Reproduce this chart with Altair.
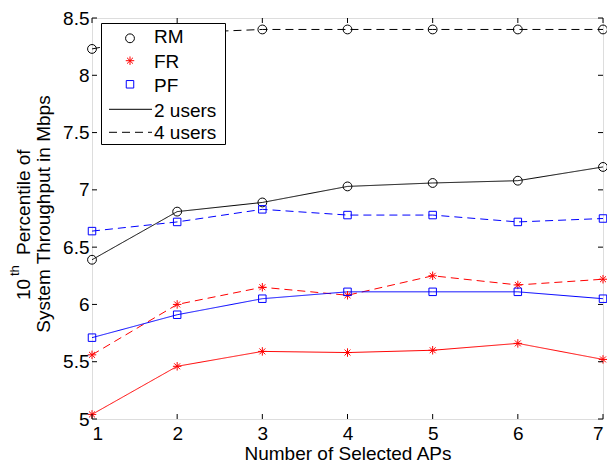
import altair as alt
import pandas as pd

aps = [1, 2, 3, 4, 5, 6, 7]
rm_2 = [6.39, 6.81, 6.89, 7.03, 7.06, 7.08, 7.20]
rm_4 = [8.23, 8.37, 8.40, 8.40, 8.40, 8.40, 8.40]
fr_2 = [5.04, 5.46, 5.59, 5.58, 5.60, 5.66, 5.52]
fr_4 = [5.56, 6.00, 6.15, 6.08, 6.25, 6.17, 6.22]
pf_2 = [5.71, 5.91, 6.05, 6.11, 6.11, 6.11, 6.05]
pf_4 = [6.64, 6.72, 6.83, 6.78, 6.78, 6.72, 6.75]

schemes = ["RM", "FR", "PF"]
scheme_colors = ["#000000", "#ff0000", "#0000ff"]
user_groups = ["2 users", "4 users"]
x_ticks = [1, 2, 3, 4, 5, 6, 7]
y_ticks = [5, 5.5, 6, 6.5, 7, 7.5, 8, 8.5]

FONT = "Liberation Sans"
STAR = "M-1,0L1,0M0,-1L0,1M-0.7,-0.7L0.7,0.7M-0.7,0.7L0.7,-0.7"
W, H = 511, 401
DY = -2  # keep page positions of overlays after top padding change

rows = []
for scheme, users, vals in [("RM", "2 users", rm_2), ("RM", "4 users", rm_4),
                            ("FR", "2 users", fr_2), ("FR", "4 users", fr_4),
                            ("PF", "2 users", pf_2), ("PF", "4 users", pf_4)]:
    for a, v in zip(aps, vals):
        rows.append(dict(scheme=scheme, users=users, series=scheme + users, aps=a, tp=v))
df = pd.DataFrame(rows)

xs = alt.Scale(domain=[1, 7], nice=False, zero=False)
ys = alt.Scale(domain=[5, 8.5], nice=False, zero=False)
color = alt.Color("scheme:N", scale=alt.Scale(domain=schemes, range=scheme_colors), legend=None)

xaxis = alt.Axis(values=x_ticks, format="d", ticks=False, domain=False, grid=False,
                 labelFontSize=19, labelFont=FONT, labelColor="black", labelPadding=5,
                 title="Number of Selected APs", titleFontSize=19, titleFont=FONT,
                 titleFontWeight="normal", titleColor="black", titleBaseline="alphabetic",
                 titleY=40, labelOverlap=False)
yaxis = alt.Axis(values=y_ticks, format="~g", ticks=False, domain=False, grid=False,
                 labelFontSize=19, labelFont=FONT, labelColor="black", labelPadding=3,
                 title="", labelOverlap=False)


def X(field):
    return alt.X(field, scale=xs, axis=xaxis)


def Y(field):
    return alt.Y(field, scale=ys, axis=yaxis)


lines = alt.Chart(df).mark_line(strokeWidth=1).encode(
    x=X("aps:Q"), y=Y("tp:Q"),
    color=color,
    strokeDash=alt.StrokeDash("users:N", scale=alt.Scale(domain=user_groups, range=[[1, 0], [8, 5]]), legend=None),
    detail="series:N",
)


def pts(s, shape, size):
    return alt.Chart(df).transform_filter(alt.datum.scheme == s).mark_point(
        filled=False, strokeWidth=1, opacity=1, shape=shape, size=size
    ).encode(x=X("aps:Q"), y=Y("tp:Q"), color=color)


p_rm = pts("RM", "circle", 78)
p_fr = pts("FR", STAR, 72)
p_pf = pts("PF", "square", 56)

xt = pd.DataFrame({"aps": x_ticks})
yt = pd.DataFrame({"tp": y_ticks})
tick_bottom = alt.Chart(xt).mark_rule(color="black", strokeWidth=1).encode(
    x=X("aps:Q"), y=alt.value(H), y2=alt.value(H - 5))
tick_top = alt.Chart(xt).mark_rule(color="black", strokeWidth=1).encode(
    x=X("aps:Q"), y=alt.value(0), y2=alt.value(5))
tick_left = alt.Chart(yt).mark_rule(color="black", strokeWidth=1).encode(
    y=Y("tp:Q"), x=alt.value(0), x2=alt.value(5))
tick_right = alt.Chart(yt).mark_rule(color="black", strokeWidth=1).encode(
    y=Y("tp:Q"), x=alt.value(W), x2=alt.value(W - 5))

one = pd.DataFrame({"k": [0]})


def txt(s, x, y, size=19, angle=0, align="left", baseline="alphabetic", col="black"):
    return alt.Chart(one).mark_text(angle=angle, align=align, baseline=baseline, fontSize=size,
                                    font=FONT, color=col).encode(
        x=alt.value(x), y=alt.value(y + DY), text=alt.value(s))


ytitle = [
    txt("10", -62, 284, angle=270),
    txt("th", -73, 260, size=13, angle=270),
    txt("Percentile of", -62, 239, angle=270),
    txt("System Throughput in Mbps", -42, 198, angle=270, align="center"),
]

leg_box = alt.Chart(one).mark_rect(fill="white", stroke="black", strokeWidth=1).encode(
    x=alt.value(9.5), x2=alt.value(133.5), y=alt.value(7.5 + DY), y2=alt.value(128.5 + DY))


def leg_pt(shape, size, col, y):
    return alt.Chart(one).mark_point(filled=False, strokeWidth=1, opacity=1, shape=shape,
                                     size=size, color=col).encode(x=alt.value(38), y=alt.value(y + DY))


def leg_line(dash, y):
    return alt.Chart(one).mark_rule(color="black", strokeWidth=1, strokeDash=dash).encode(
        x=alt.value(17), x2=alt.value(60), y=alt.value(y + DY))


legend = [
    leg_box,
    leg_pt("circle", 78, "#000000", 22.3),
    leg_pt(STAR, 72, "#ff0000", 44.7),
    leg_pt("square", 56, "#0000ff", 68.3),
    leg_line([1, 0], 93.3),
    leg_line([8, 5], 116.3),
    txt("RM", 62, 27.3),
    txt("FR", 62, 52.3),
    txt("PF", 62, 75.7),
    txt("2 users", 62, 100.7),
    txt("4 users", 62, 123.3),
]

chart = alt.layer(
    lines, p_rm, p_fr, p_pf, tick_bottom, tick_top, tick_left, tick_right, *legend, *ytitle
).properties(
    width=W, height=H,
    autosize=alt.AutoSizeParams(type="none"),
    padding={"left": 84, "top": 10, "right": 4, "bottom": 44},
).configure_view(stroke="black", strokeWidth=1).configure(font=FONT, background="white")

chart.save("out.html", embed_options={"renderer": "svg", "actions": False})
